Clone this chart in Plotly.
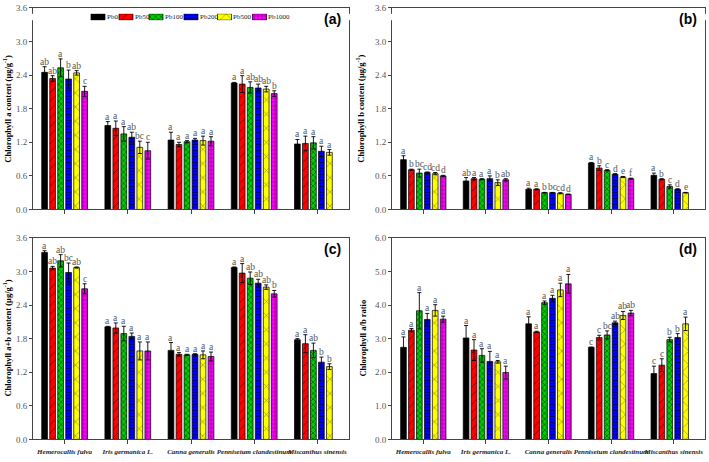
import plotly.graph_objects as go

# ---------------- data ----------------
species = ["Hemerocallis fulva", "Iris germanica L.", "Canna generalis",
           "Pennisetum clandestinum", "Miscanthus sinensis"]
treatments = ["Pb0", "Pb50", "Pb100", "Pb200", "Pb500", "Pb1000"]

# (a) Chlorophyll a content, one list per treatment (species order)
chla_mean = [[2.45, 1.50, 1.24, 2.26, 1.17],
             [2.34, 1.45, 1.16, 2.24, 1.18],
             [2.53, 1.35, 1.21, 2.18, 1.19],
             [2.33, 1.29, 1.24, 2.17, 1.04],
             [2.44, 1.11, 1.23, 2.15, 1.02],
             [2.11, 1.05, 1.22, 2.07, None]]
chla_err = [[0.10, 0.07, 0.14, 0.01, 0.08],
            [0.05, 0.13, 0.04, 0.15, 0.13],
            [0.16, 0.13, 0.02, 0.10, 0.11],
            [0.16, 0.09, 0.03, 0.07, 0.09],
            [0.04, 0.11, 0.08, 0.05, 0.05],
            [0.09, 0.15, 0.08, 0.05, None]]
chla_sig = [["ab", "a", "a", "a", "a"],
            ["ab", "a", "a", "a", "a"],
            ["a", "a", "a", "ab", "a"],
            ["b", "ab", "a", "ab", "a"],
            ["ab", "bc", "a", "ab", "a"],
            ["c", "c", "a", "b", ""]]

# (b) Chlorophyll b content
chlb_mean = [[0.89, 0.51, 0.36, 0.83, 0.61],
             [0.71, 0.55, 0.36, 0.74, 0.54],
             [0.65, 0.54, 0.30, 0.70, 0.41],
             [0.66, 0.55, 0.30, 0.63, 0.36],
             [0.64, 0.48, 0.29, 0.58, 0.30],
             [0.60, 0.53, 0.27, 0.55, None]]
chlb_err = [[0.07, 0.06, 0.02, 0.01, 0.04],
            [0.01, 0.02, 0.01, 0.04, 0.01],
            [0.07, 0.01, 0.005, 0.01, 0.03],
            [0.01, 0.05, 0.005, 0.01, 0.01],
            [0.02, 0.05, 0.01, 0.01, 0.005],
            [0.01, 0.02, 0.005, 0.01, None]]
chlb_sig = [["a", "ab", "a", "a", "a"],
            ["b", "a", "a", "b", "b"],
            ["bc", "a", "b", "c", "c"],
            ["cd", "a", "bc", "d", "d"],
            ["cd", "b", "cd", "e", "e"],
            ["d", "ab", "d", "f", ""]]

# (c) Chlorophyll a+b content
chlt_mean = [[3.34, 2.01, 1.59, 3.07, 1.78],
             [3.06, 1.99, 1.52, 2.97, 1.71],
             [3.19, 1.89, 1.51, 2.88, 1.59],
             [2.98, 1.84, 1.52, 2.79, 1.38],
             [3.07, 1.58, 1.51, 2.72, 1.30],
             [2.69, 1.58, 1.48, 2.60, None]]
chlt_err = [[0.03, 0.01, 0.14, 0.01, 0.02],
            [0.03, 0.09, 0.03, 0.17, 0.16],
            [0.11, 0.13, 0.01, 0.11, 0.13],
            [0.17, 0.06, 0.01, 0.07, 0.09],
            [0.01, 0.16, 0.07, 0.04, 0.05],
            [0.09, 0.16, 0.08, 0.06, None]]
chlt_sig = [["a", "a", "a", "a", "a"],
            ["ab", "a", "a", "a", "a"],
            ["ab", "a", "a", "ab", "ab"],
            ["bc", "a", "a", "ab", "b"],
            ["ab", "a", "a", "ab", "b"],
            ["c", "a", "a", "b", ""]]

# (d) Chlorophyll a/b ratio
ratio_mean = [[2.74, 3.02, 3.44, 2.74, 1.96],
              [3.25, 2.66, 3.20, 3.03, 2.21],
              [3.83, 2.50, 4.07, 3.11, 2.97],
              [3.57, 2.32, 4.20, 3.47, 3.03],
              [3.84, 2.31, 4.45, 3.69, 3.44],
              [3.58, 1.99, 4.63, 3.76, None]]
ratio_err = [[0.31, 0.37, 0.21, 0.01, 0.22],
             [0.05, 0.31, 0.02, 0.07, 0.19],
             [0.54, 0.20, 0.05, 0.12, 0.07],
             [0.18, 0.30, 0.09, 0.05, 0.12],
             [0.17, 0.04, 0.20, 0.12, 0.20],
             [0.09, 0.19, 0.28, 0.08, None]]
ratio_sig = [["a", "a", "a", "c", "c"],
             ["a", "a", "a", "c", "c"],
             ["a", "a", "a", "bc", "b"],
             ["a", "a", "a", "ab", "b"],
             ["a", "a", "a", "ab", "a"],
             ["a", "a", "a", "ab", ""]]

y_ticks_chl = [0.0, 0.6, 1.2, 1.8, 2.4, 3.0, 3.6]
y_ticks_ratio = [0.0, 1.0, 2.0, 3.0, 4.0, 5.0, 6.0]

# ---------------- styles ----------------
W, H = 709, 462
colors = ["#000000", "#ff0000", "#00cc00", "#0000ff", "#ffff00", "#ff00ff"]
patterns = [dict(shape=""),
            dict(shape="/", size=6, solidity=0.15),
            dict(shape="x", size=4, solidity=0.35),
            dict(shape="-", size=3, solidity=0.35),
            dict(shape="x", size=10, solidity=0.1),
            dict(shape="+", size=4, solidity=0.25)]
SERIF = "Liberation Serif"
AXC = "#444444"
BARGAP, GROUPGAP = 0.24, 0.28

def px_x(a, b):
    return [a / W, b / W]

def px_y(top, bottom):
    return [1 - bottom / H, 1 - top / H]

panels = [
    dict(ax="", mean=chla_mean, err=chla_err, sig=chla_sig, ticks=y_ticks_chl,
         xd=px_x(33, 349), yd=px_y(3, 209), label="(a)",
         title="Chlorophyll a content (μg/g<sup>-1</sup>)", tx=8, showx=False),
    dict(ax="2", mean=chlb_mean, err=chlb_err, sig=chlb_sig, ticks=y_ticks_chl,
         xd=px_x(392, 705), yd=px_y(3, 209), label="(b)",
         title="Chlorophyll b content (μg/g<sup>-1</sup>)", tx=361, showx=False),
    dict(ax="3", mean=chlt_mean, err=chlt_err, sig=chlt_sig, ticks=y_ticks_chl,
         xd=px_x(33, 349), yd=px_y(238, 444), label="(c)",
         title="Chlorophyll a+b content (μg/g<sup>-1</sup>)", tx=8, showx=True),
    dict(ax="4", mean=ratio_mean, err=ratio_err, sig=ratio_sig, ticks=y_ticks_ratio,
         xd=px_x(392, 705), yd=px_y(238, 444), label="(d)",
         title="Chlorophyll a/b ratio", tx=363, showx=True),
]

fig = go.Figure()
annotations = []
n = len(treatments)
slot = (1 - BARGAP) / n

for p in panels:
    xa, ya = "x" + p["ax"], "y" + p["ax"]
    for j, t in enumerate(treatments):
        fig.add_trace(go.Bar(
            x=species, y=p["mean"][j], name=t, showlegend=False,
            xaxis=xa, yaxis=ya,
            marker=dict(color=colors[j], line=dict(color="black", width=0.7),
                        pattern=dict(fgcolor="black", bgcolor=colors[j], **patterns[j])),
            error_y=dict(type="data", array=p["err"][j], color="black",
                         thickness=0.9, width=2),
        ))
        off = -(1 - BARGAP) / 2 + slot * (j + 0.5)
        for i in range(len(species)):
            v = p["mean"][j][i]
            if v is None or not p["sig"][j][i]:
                continue
            annotations.append(dict(
                x=i + off, y=v + p["err"][j][i], xref=xa, yref=ya,
                text=p["sig"][j][i], showarrow=False, yanchor="bottom",
                yshift=-2, font=dict(family=SERIF, size=9.5, color="#555555")))
    # panel label
    annotations.append(dict(x=0.982, y=0.945, xref=xa + " domain", yref=ya + " domain",
                            text="<b>" + p["label"] + "</b>", showarrow=False,
                            xanchor="right", yanchor="middle",
                            font=dict(family="Liberation Sans", size=14, color="black")))
    # y-axis title
    annotations.append(dict(x=p["tx"] / W, y=sum(p["yd"]) / 2, xref="paper", yref="paper",
                            text="<b>" + p["title"] + "</b>", showarrow=False,
                            textangle=-90, xanchor="center", yanchor="middle",
                            font=dict(family=SERIF, size=8.5, color="black")))

    fig.update_layout(**{
        "xaxis" + p["ax"]: dict(domain=p["xd"], anchor=ya, type="category",
                                range=[-0.5, len(species) - 0.5],
                                showline=True, linecolor=AXC, linewidth=1, mirror=True,
                                ticks="outside", ticklen=4, tickcolor=AXC,
                                showticklabels=p["showx"], showgrid=False,
                                tickangle=0, ticklabelstandoff=1,
                                tickfont=dict(family=SERIF, size=7, color="#222222",
                                              style="italic", weight="bold")),
        "yaxis" + p["ax"]: dict(domain=p["yd"], anchor=xa,
                                range=[p["ticks"][0], p["ticks"][-1]],
                                tickvals=p["ticks"], tickformat=".1f",
                                showline=True, linecolor=AXC, linewidth=1, mirror=True,
                                ticks="outside", ticklen=3, tickcolor=AXC,
                                showgrid=False, zeroline=False,
                                tickfont=dict(family=SERIF, size=9, color="#555555")),
    })

# ---------------- legend (drawn as a small strip of swatches) ----------------
legend_centers = [98, 126, 156, 191, 224.5, 259.5]
for j, t in enumerate(treatments):
    fig.add_trace(go.Bar(
        x=[legend_centers[j]], y=[1], base=0, width=14, offset=-7,
        xaxis="x5", yaxis="y5", showlegend=False, hoverinfo="skip",
        marker=dict(color=colors[j], line=dict(color="black", width=0.7),
                    pattern=dict(fgcolor="black", bgcolor=colors[j], **patterns[j])),
    ))
    annotations.append(dict(x=legend_centers[j] + 7.5, y=0.5, xref="x5", yref="y5",
                            text=t, showarrow=False, xanchor="left", yanchor="middle",
                            borderpad=0,
                            font=dict(family=SERIF, size=7, color="#222222")))

fig.update_layout(
    xaxis5=dict(domain=[0, 1], range=[0, W], visible=False, anchor="y5"),
    yaxis5=dict(domain=px_y(9, 15.5), range=[0, 1], visible=False, anchor="x5"),
)

fig.update_layout(
    width=W, height=H, margin=dict(l=0, r=0, t=0, b=0),
    paper_bgcolor="white", plot_bgcolor="white",
    barmode="group", bargap=BARGAP, bargroupgap=GROUPGAP,
    annotations=annotations, showlegend=False,
)

fig.write_html("out.html", config={"displayModeBar": False},
               post_script="document.body.style.margin='0px';document.body.style.overflow='hidden';")
